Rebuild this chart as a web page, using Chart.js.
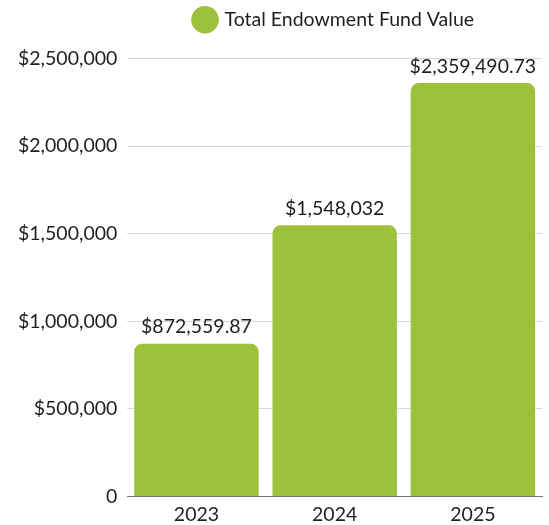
<!DOCTYPE html>
<html>
<head>
<meta charset="utf-8">
<script src="https://cdn.jsdelivr.net/npm/chart.js@4"></script>
<style>
    body { margin: 0; background: #fff; }
    #wrap { width: 549px; height: 525px; }
</style>
</head>
<body>
<div id="wrap"><canvas id="fundChart"></canvas></div>
<script>
const years = ['2023', '2024', '2025'];
const fundValues = [872559.87, 1548032, 2359490.73];
const seriesLabel = 'Total Endowment Fund Value';
const yMax = 2500000;
const yStep = 500000;

// draws the value above each bar (no datalabels plugin available)
const valueLabels = {
    id: 'valueLabels',
    afterDatasetsDraw(chart) {
        const ctx = chart.ctx;
        const meta = chart.getDatasetMeta(0);
        ctx.save();
        ctx.font = '19.5px Lato';
        ctx.fillStyle = '#1f1f1f';
        ctx.textAlign = 'center';
        ctx.textBaseline = 'bottom';
        meta.data.forEach((bar, i) => {
            ctx.fillText('$' + fundValues[i].toLocaleString('en-US', { maximumFractionDigits: 2 }), bar.x, bar.y - 7);
        });
        ctx.restore();
    }
};

// extra room under the legend, and centre it over the plot area instead of the canvas
const legendGap = {
    id: 'legendGap',
    beforeInit(chart) {
        const fit = chart.legend.fit;
        chart.legend.fit = function () {
            fit.bind(chart.legend)();
            this.height += 19;
        };
    },
    afterLayout(chart) {
        chart.legend.left = chart.chartArea.left;
        chart.legend.right = chart.chartArea.right;
    }
};

new Chart(document.getElementById('fundChart'), {
    type: 'bar',
    data: {
        labels: years,
        datasets: [{
            label: seriesLabel,
            data: fundValues,
            backgroundColor: '#9dc13b',
            borderRadius: 8,
            categoryPercentage: 1,
            barPercentage: 0.9
        }]
    },
    options: {
        responsive: true,
        maintainAspectRatio: false,
        animation: false,
        layout: { padding: { left: 8, right: 7, top: 0, bottom: -7 } },
        plugins: {
            legend: {
                labels: {
                    usePointStyle: true,
                    pointStyle: 'circle',
                    boxWidth: 20,
                    boxHeight: 20,
                    padding: 10,
                    color: '#1f1f1f',
                    font: { family: 'Lato', size: 19.5 }
                }
            },
            tooltip: { enabled: false }
        },
        scales: {
            x: {
                grid: { display: false, drawTicks: false },
                border: { color: '#777', width: 1 },
                ticks: { color: '#1f1f1f', font: { family: 'Lato', size: 19.5 }, padding: 6 }
            },
            y: {
                min: 0,
                max: yMax,
                border: { display: false },
                grid: { color: '#d9d9d9', drawTicks: false },
                ticks: {
                    stepSize: yStep,
                    padding: 10,
                    color: '#1f1f1f',
                    font: { family: 'Lato', size: 19.5 },
                    callback: v => v === 0 ? '0' : '$' + v.toLocaleString('en-US')
                }
            }
        }
    },
    plugins: [valueLabels, legendGap]
});
</script>
</body>
</html>
